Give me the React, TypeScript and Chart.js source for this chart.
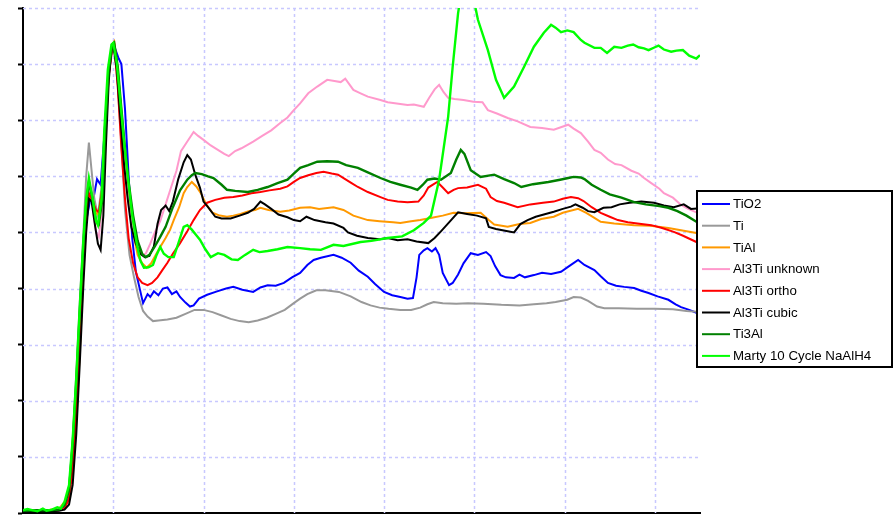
import React, { useEffect, useRef } from "react";
import { Chart, registerables } from "chart.js";

Chart.register(...registerables);

// Normalised absorption spectra, [energy offset, intensity] pairs
const tio2: [number, number][] = [
  [0, 0.03], [1.5, 0.05], [3, 0.04], [4, 0.06], [4.6, 0.12], [5.1, 0.3], [5.5, 0.9], [5.9, 1.9], [6.3, 3.2],
  [6.7, 4.5], [7.0, 5.2], [7.4, 5.55], [7.8, 5.6], [8.2, 5.95], [8.6, 5.85], [9.0, 6.7], [9.4, 7.7], [9.8, 8.2],
  [10.2, 8.28], [10.6, 8.1], [10.9, 8.0], [11.3, 7.2], [11.7, 6.0], [12.1, 4.9], [12.5, 4.3], [13.0, 3.95],
  [13.3, 3.74], [13.8, 3.9], [14.1, 3.85], [14.5, 3.95], [15.0, 3.88], [15.5, 4.0], [16.0, 4.02], [16.5, 3.9],
  [17.0, 3.95], [17.4, 3.85], [18.0, 3.75], [18.5, 3.68], [18.9, 3.7], [19.5, 3.82], [20.4, 3.89], [21.5, 3.95],
  [22.5, 4.0], [23.3, 4.03], [24.3, 3.98], [25.5, 3.94], [26.3, 4.02], [27.1, 4.06], [28.0, 4.05], [28.9, 4.1],
  [29.8, 4.2], [30.7, 4.28], [31.5, 4.42], [32.2, 4.51], [33.0, 4.55], [34.4, 4.6], [35.3, 4.55], [36.3, 4.46],
  [37.2, 4.32], [38.2, 4.21], [39.0, 4.08], [40.0, 3.94], [40.9, 3.88], [41.8, 3.85], [42.6, 3.82], [43.2, 3.83],
  [43.6, 4.2], [43.9, 4.6], [44.4, 4.68], [44.8, 4.72], [45.3, 4.66], [45.7, 4.72], [46.1, 4.6], [46.5, 4.28],
  [47.2, 4.06], [47.6, 4.1], [48.2, 4.25], [48.8, 4.45], [49.6, 4.63], [50.4, 4.6], [51.3, 4.65], [51.8, 4.58],
  [52.3, 4.4], [52.9, 4.24], [53.5, 4.2], [54.4, 4.19], [55.0, 4.25], [55.6, 4.2], [56.6, 4.24], [57.5, 4.28],
  [58.5, 4.26], [59.6, 4.3], [60.5, 4.4], [61.5, 4.51], [62.2, 4.42], [63.3, 4.33], [64.0, 4.22], [64.8, 4.1],
  [65.7, 4.05], [66.6, 4.03], [67.7, 4.01], [68.5, 3.96], [69.3, 3.92], [70.3, 3.86], [71.5, 3.8], [72.3, 3.72],
  [72.9, 3.67], [73.8, 3.62], [74.6, 3.57], [75, 3.55],
];

const ti: [number, number][] = [
  [0, 0.03], [1.5, 0.04], [3, 0.05], [4, 0.06], [4.6, 0.15], [5.1, 0.45], [5.5, 1.3], [5.9, 2.5], [6.3, 3.8],
  [6.7, 5.0], [7.0, 6.0], [7.3, 6.6], [7.6, 6.1], [7.9, 5.6], [8.3, 5.3], [8.7, 5.8], [9.1, 6.9], [9.5, 7.9],
  [9.9, 8.3], [10.1, 8.35], [10.5, 7.6], [10.9, 6.6], [11.3, 5.4], [11.8, 4.6], [12.3, 4.2], [12.8, 3.85],
  [13.3, 3.6], [13.8, 3.5], [14.4, 3.42], [15.0, 3.43], [16.0, 3.45], [17.0, 3.48], [18.0, 3.55], [19.0, 3.62],
  [20.0, 3.62], [21.0, 3.58], [22.0, 3.52], [23.0, 3.46], [24.0, 3.42], [25.0, 3.4], [26.0, 3.43], [27.0, 3.48],
  [28.0, 3.55], [29.0, 3.62], [30.0, 3.74], [30.7, 3.82], [31.5, 3.9], [32.5, 3.97], [33.5, 3.97], [35.0, 3.94],
  [36.3, 3.86], [37.5, 3.76], [38.5, 3.7], [39.5, 3.66], [40.5, 3.64], [41.8, 3.62], [43.0, 3.62], [44.0, 3.66],
  [44.8, 3.72], [45.5, 3.76], [46.5, 3.74], [48.0, 3.73], [49.3, 3.74], [51.0, 3.73], [53.0, 3.71], [55.0, 3.7],
  [56.6, 3.72], [58.0, 3.74], [59.0, 3.76], [60.3, 3.8], [61.0, 3.85], [61.8, 3.84], [62.6, 3.78], [63.6, 3.68],
  [64.4, 3.65], [66, 3.65], [68, 3.64], [70, 3.64], [72, 3.63], [73.5, 3.6], [75, 3.58],
];

const tiAl: [number, number][] = [
  [0, 0.05], [1.5, 0.05], [3, 0.06], [4, 0.08], [4.6, 0.2], [5.1, 0.35], [5.5, 0.8], [5.9, 1.6], [6.3, 2.9],
  [6.7, 4.3], [7.0, 5.2], [7.3, 5.75], [7.7, 5.6], [8.1, 5.35], [8.5, 5.3], [8.8, 5.7], [9.1, 6.8], [9.5, 7.9],
  [9.9, 8.35], [10.1, 8.4], [10.5, 7.9], [10.9, 7.1], [11.3, 6.3], [11.7, 5.6], [12.2, 5.0], [12.7, 4.6],
  [13.2, 4.45], [13.7, 4.37], [14.2, 4.45], [14.7, 4.6], [15.2, 4.74], [15.8, 4.9], [16.3, 5.05], [16.7, 5.22],
  [17.3, 5.45], [17.8, 5.7], [18.2, 5.81], [18.7, 5.9], [19.2, 5.82], [19.7, 5.7], [20.3, 5.5], [21.0, 5.35],
  [21.8, 5.3], [22.6, 5.28], [23.3, 5.3], [24.1, 5.33], [25.0, 5.38], [25.7, 5.4], [26.3, 5.44], [27.2, 5.4],
  [28.5, 5.37], [29.5, 5.39], [30.7, 5.44], [31.8, 5.45], [32.8, 5.42], [34.4, 5.45], [35.5, 5.4], [36.6, 5.3],
  [38.2, 5.22], [39.5, 5.2], [41.0, 5.18], [41.8, 5.17], [43.0, 5.2], [44.0, 5.22], [45.3, 5.26], [46.5, 5.3],
  [47.7, 5.35], [49.0, 5.34], [50.7, 5.35], [51.6, 5.22], [52.2, 5.14], [53.7, 5.1], [55.0, 5.15], [56.2, 5.17],
  [57.4, 5.24], [58.8, 5.28], [59.8, 5.35], [61.5, 5.42], [62.4, 5.35], [63.3, 5.26], [64.0, 5.19], [65.5, 5.16],
  [67.7, 5.13], [69.5, 5.12], [71.5, 5.08], [73.2, 5.03], [74.6, 4.99], [75, 4.97],
];

const al3TiUnknown: [number, number][] = [
  [0, 0.04], [1.5, 0.05], [3, 0.05], [4, 0.07], [4.6, 0.15], [5.1, 0.4], [5.5, 1.1], [5.9, 2.1], [6.3, 3.4],
  [6.7, 4.6], [7.0, 5.3], [7.3, 5.75], [7.7, 5.5], [8.1, 5.0], [8.4, 4.92], [8.8, 5.5], [9.1, 6.7], [9.5, 7.8],
  [9.9, 8.3], [10.1, 8.33], [10.5, 7.8], [10.9, 7.0], [11.3, 6.2], [11.7, 5.5], [12.2, 5.0], [12.7, 4.72],
  [13.2, 4.6], [13.6, 4.62], [14.1, 4.8], [14.6, 5.0], [15.2, 5.2], [15.8, 5.5], [16.4, 5.8], [17.0, 6.1],
  [17.5, 6.45], [18.2, 6.62], [18.9, 6.79], [19.4, 6.72], [20.0, 6.65], [20.8, 6.55], [21.5, 6.48], [22.3, 6.4],
  [22.8, 6.36], [23.5, 6.45], [24.2, 6.5], [25.5, 6.62], [26.5, 6.72], [27.5, 6.82], [28.5, 6.95], [29.3, 7.05],
  [30.0, 7.18], [30.7, 7.3], [31.6, 7.48], [32.6, 7.6], [33.7, 7.72], [34.5, 7.7], [35.2, 7.68], [35.7, 7.74],
  [36.6, 7.54], [37.4, 7.48], [38.2, 7.42], [39.6, 7.36], [40.4, 7.32], [41.8, 7.29], [42.6, 7.27], [43.3, 7.28],
  [44.4, 7.24], [45.0, 7.4], [45.6, 7.55], [46.1, 7.63], [46.6, 7.5], [47.1, 7.4], [47.8, 7.38], [48.8, 7.36],
  [49.9, 7.33], [50.9, 7.32], [51.5, 7.18], [52.5, 7.12], [53.7, 7.04], [54.8, 6.98], [56.2, 6.88], [57.5, 6.86],
  [58.8, 6.83], [60.4, 6.92], [61.0, 6.85], [61.8, 6.77], [62.6, 6.62], [63.3, 6.47], [64.0, 6.42], [64.8, 6.3],
  [65.6, 6.22], [66.3, 6.2], [67.4, 6.1], [68.2, 6.05], [68.8, 5.97], [69.6, 5.88], [70.5, 5.78], [71.0, 5.7],
  [72.0, 5.62], [72.9, 5.49], [73.7, 5.42], [74.4, 5.37], [75, 5.33],
];

const al3TiOrtho: [number, number][] = [
  [0, 0.03], [1.5, 0.04], [3, 0.04], [4, 0.05], [4.6, 0.08], [5.1, 0.25], [5.5, 0.8], [5.9, 1.8], [6.3, 3.1],
  [6.7, 4.4], [7.0, 5.2], [7.3, 5.7], [7.7, 5.55], [8.1, 5.4], [8.4, 5.36], [8.8, 5.8], [9.1, 6.8], [9.5, 7.8],
  [9.9, 8.3], [10.1, 8.35], [10.5, 7.6], [10.9, 6.5], [11.3, 5.6], [11.7, 4.9], [12.2, 4.45], [12.7, 4.2],
  [13.2, 4.1], [13.8, 4.06], [14.3, 4.1], [14.9, 4.2], [15.4, 4.32], [16.0, 4.46], [16.6, 4.62], [17.4, 4.81],
  [18.2, 5.02], [18.9, 5.22], [19.6, 5.4], [20.4, 5.53], [21.3, 5.58], [22.3, 5.62], [23.3, 5.63], [24.3, 5.66],
  [25.3, 5.7], [26.3, 5.72], [27.3, 5.75], [28.5, 5.78], [29.3, 5.82], [30.0, 5.9], [30.7, 5.97], [31.6, 6.02],
  [32.5, 6.06], [33.3, 6.08], [34.2, 6.05], [34.9, 6.03], [35.6, 5.96], [36.4, 5.88], [37.1, 5.81], [38.2, 5.72],
  [39.6, 5.63], [40.4, 5.58], [41.5, 5.55], [42.6, 5.54], [43.8, 5.55], [44.4, 5.66], [44.9, 5.8], [45.5, 5.86],
  [45.9, 5.9], [46.5, 5.8], [47.1, 5.7], [47.7, 5.76], [48.2, 5.79], [49.2, 5.8], [50.4, 5.85], [51.3, 5.78],
  [51.8, 5.63], [52.5, 5.56], [53.3, 5.53], [54.8, 5.45], [56.2, 5.5], [57.6, 5.53], [58.8, 5.55], [59.8, 5.6],
  [60.7, 5.63], [61.5, 5.61], [62.1, 5.56], [63.0, 5.45], [64.0, 5.35], [65.0, 5.28], [65.9, 5.22], [67.0, 5.18],
  [68.5, 5.15], [69.6, 5.13], [70.8, 5.08], [72.1, 5.01], [73.0, 4.95], [74.6, 4.83], [75, 4.8],
];

const al3TiCubic: [number, number][] = [
  [0, 0.02], [1.5, 0.03], [3, 0.03], [4, 0.04], [4.6, 0.06], [5.1, 0.15], [5.5, 0.5], [5.9, 1.4], [6.3, 2.7],
  [6.7, 4.1], [7.0, 5.0], [7.3, 5.6], [7.6, 5.55], [8.0, 5.1], [8.3, 4.8], [8.6, 4.69], [8.9, 5.3], [9.2, 6.6],
  [9.5, 7.7], [9.8, 8.25], [10.0, 8.33], [10.4, 7.9], [10.8, 7.0], [11.2, 6.2], [11.6, 5.6], [12.0, 5.1],
  [12.5, 4.8], [13.0, 4.62], [13.5, 4.56], [14.0, 4.58], [14.5, 4.75], [14.9, 5.15], [15.3, 5.4], [15.8, 5.48],
  [16.2, 5.38], [16.6, 5.55], [17.2, 5.95], [17.8, 6.25], [18.2, 6.38], [18.6, 6.3], [19.1, 6.02], [19.6, 5.8],
  [20.0, 5.55], [20.5, 5.45], [21.3, 5.28], [22.0, 5.25], [23.0, 5.25], [24.0, 5.3], [24.9, 5.35], [25.6, 5.42],
  [26.3, 5.55], [26.8, 5.5], [27.5, 5.42], [28.3, 5.32], [29.3, 5.27], [30.0, 5.22], [30.7, 5.2], [31.4, 5.28],
  [32.3, 5.22], [33.5, 5.18], [34.4, 5.16], [35.5, 5.08], [36.0, 5.0], [37.0, 4.94], [38.2, 4.9], [39.5, 4.88],
  [40.4, 4.9], [41.5, 4.86], [42.6, 4.88], [43.6, 4.84], [44.9, 4.81], [45.6, 4.9], [46.3, 5.02], [47.2, 5.18],
  [48.2, 5.36], [49.2, 5.33], [50.3, 5.3], [51.3, 5.25], [51.6, 5.1], [52.4, 5.06], [53.7, 5.02], [54.4, 5.0],
  [55.1, 5.15], [55.9, 5.22], [56.8, 5.28], [57.7, 5.32], [58.8, 5.37], [59.8, 5.42], [60.7, 5.46], [61.2, 5.5],
  [62.0, 5.44], [62.6, 5.38], [63.3, 5.36], [64.3, 5.44], [65.2, 5.45], [66.1, 5.5], [67.2, 5.53], [68.5, 5.55],
  [69.9, 5.53], [71.0, 5.48], [72.1, 5.45], [73.2, 5.5], [74.0, 5.42], [75, 5.43],
];

const ti3Al: [number, number][] = [
  [0, 0.04], [1.5, 0.05], [3, 0.05], [4, 0.06], [4.6, 0.14], [5.1, 0.4], [5.5, 1.2], [5.9, 2.3], [6.3, 3.6],
  [6.7, 4.8], [7.0, 5.5], [7.3, 5.9], [7.7, 5.6], [8.1, 5.2], [8.4, 5.15], [8.8, 5.6], [9.1, 6.8], [9.5, 7.9],
  [9.9, 8.35], [10.1, 8.38], [10.5, 7.95], [10.9, 7.2], [11.3, 6.5], [11.7, 5.9], [12.2, 5.3], [12.7, 4.85],
  [13.2, 4.62], [13.6, 4.56], [14.0, 4.6], [14.6, 4.75], [15.2, 4.92], [15.8, 5.1], [16.6, 5.45], [17.4, 5.75],
  [18.2, 5.94], [18.7, 6.02], [19.1, 6.06], [19.8, 6.04], [20.5, 6.0], [21.1, 5.97], [22.0, 5.85], [22.6, 5.76],
  [23.5, 5.74], [24.9, 5.72], [26.0, 5.76], [27.1, 5.81], [28.2, 5.88], [29.3, 5.94], [30.0, 6.05], [30.7, 6.15],
  [31.6, 6.2], [32.6, 6.26], [33.7, 6.27], [34.9, 6.26], [35.8, 6.2], [37.1, 6.15], [38.2, 6.07], [39.6, 5.97],
  [40.7, 5.9], [41.8, 5.85], [43.0, 5.8], [43.7, 5.76], [44.3, 5.85], [44.8, 5.94], [45.6, 5.96], [46.3, 5.94],
  [47.4, 6.06], [48.0, 6.3], [48.5, 6.47], [48.9, 6.4], [49.6, 6.11], [50.7, 5.99], [52.2, 6.03], [53.3, 5.95],
  [54.4, 5.88], [55.2, 5.81], [56.5, 5.86], [58.2, 5.9], [59.5, 5.94], [60.4, 5.97], [61.0, 5.99], [61.8, 5.98],
  [62.2, 5.95], [63.0, 5.85], [64.0, 5.76], [65.0, 5.68], [66.3, 5.62], [67.7, 5.54], [69.0, 5.5], [70.5, 5.47],
  [71.5, 5.44], [72.5, 5.38], [73.5, 5.3], [74.6, 5.19], [75, 5.16],
];

const marty10Cycle: [number, number][] = [
  [0, 0.05], [0.5, 0.07], [1, 0.05], [1.6, 0.03], [2.2, 0.08], [2.6, 0.04], [3.2, 0.06], [3.8, 0.1], [4.2, 0.08],
  [4.6, 0.2], [5.1, 0.5], [5.5, 1.3], [5.9, 2.4], [6.3, 3.7], [6.7, 4.9], [7.0, 5.6], [7.3, 5.97], [7.7, 5.62],
  [8.1, 5.2], [8.3, 5.13], [8.7, 5.6], [9.0, 6.8], [9.4, 7.9], [9.8, 8.35], [10.0, 8.38], [10.4, 8.0], [10.8, 7.3],
  [11.2, 6.6], [11.6, 6.0], [12.1, 5.3], [12.6, 4.8], [13.0, 4.5], [13.4, 4.37], [13.9, 4.38], [14.4, 4.42],
  [14.8, 4.6], [15.2, 4.74], [15.6, 4.62], [16.1, 4.56], [16.7, 4.56], [17.2, 4.8], [17.8, 5.1], [18.2, 5.13],
  [18.7, 5.05], [19.2, 4.95], [19.6, 4.87], [20.2, 4.7], [20.8, 4.56], [21.6, 4.63], [22.3, 4.6], [23.1, 4.52],
  [23.8, 4.51], [24.6, 4.6], [25.5, 4.69], [26.2, 4.65], [27.1, 4.67], [28.2, 4.7], [29.3, 4.74], [30.7, 4.72],
  [31.8, 4.7], [33.0, 4.69], [34.4, 4.78], [35.5, 4.76], [37.4, 4.83], [38.6, 4.85], [40.4, 4.9], [42.0, 4.93],
  [43.3, 5.04], [44.4, 5.17], [45.2, 5.3], [46.1, 5.94], [47.1, 7.06], [47.6, 7.95], [48.2, 8.91], [48.8, 9.5],
  [49.4, 9.6], [50.0, 9.1], [50.4, 8.79], [51.5, 8.25], [52.4, 7.72], [53.3, 7.4], [54.4, 7.6], [55.5, 7.95],
  [56.6, 8.31], [57.7, 8.56], [58.5, 8.7], [59.0, 8.65], [59.6, 8.57], [60.3, 8.6], [61.0, 8.57], [61.8, 8.43],
  [62.2, 8.38], [63.3, 8.29], [64.0, 8.29], [64.7, 8.2], [65.5, 8.31], [66.3, 8.29], [67.0, 8.33], [67.6, 8.35],
  [68.2, 8.3], [68.8, 8.28], [69.3, 8.25], [70.0, 8.3], [70.4, 8.33], [71.0, 8.26], [71.8, 8.22], [72.4, 8.24],
  [73.1, 8.25], [73.8, 8.15], [74.6, 8.1], [75, 8.16],
];

const seriesLabels = [
  "TiO2",
  "Ti",
  "TiAl",
  "Al3Ti unknown",
  "Al3Ti ortho",
  "Al3Ti cubic",
  "Ti3Al",
  "Marty 10 Cycle NaAlH4",
];
const seriesData = [tio2, ti, tiAl, al3TiUnknown, al3TiOrtho, al3TiCubic, ti3Al, marty10Cycle];
const seriesColors = ["#0000FF", "#999999", "#FF9900", "#FF99CC", "#FF0000", "#000000", "#008000", "#00FF00"];

const X_MIN = 0;
const X_MAX = 75;
const X_STEP = 10;
const Y_MIN = 0;
const Y_MAX = 9;
const Y_STEP = 1;

// Dotted lavender grid, drawn beneath the spectra
const dottedGrid = {
  id: "dottedGrid",
  beforeDatasetsDraw(chart: any) {
    const { ctx, chartArea, scales } = chart;
    ctx.save();
    ctx.strokeStyle = "#C8C8FF";
    ctx.lineWidth = 1.5;
    ctx.setLineDash([3, 3]);
    for (let v = X_MIN + X_STEP; v < X_MAX; v += X_STEP) {
      const x = Math.round(scales.x.getPixelForValue(v)) + 0.5;
      ctx.beginPath();
      ctx.moveTo(x, chartArea.top);
      ctx.lineTo(x, chartArea.bottom);
      ctx.stroke();
    }
    for (let v = Y_MIN + Y_STEP; v <= Y_MAX; v += Y_STEP) {
      const y = Math.round(scales.y.getPixelForValue(v)) + 0.5;
      ctx.beginPath();
      ctx.moveTo(chartArea.left, y);
      ctx.lineTo(chartArea.right, y);
      ctx.stroke();
    }
    ctx.restore();
  },
};

// Boxed legend drawn over the right side of the plot
const boxLegend = {
  id: "boxLegend",
  afterDraw(chart: any) {
    const ctx = chart.ctx as CanvasRenderingContext2D;
    const left = 697;
    const top = 191;
    const width = 195;
    const height = 176;
    ctx.save();
    ctx.fillStyle = "#FFFFFF";
    ctx.fillRect(left, top, width, height);
    ctx.strokeStyle = "#000000";
    ctx.lineWidth = 2;
    ctx.strokeRect(left, top, width, height);
    ctx.font = '13.3px "Liberation Sans", Arial, sans-serif';
    ctx.textBaseline = "middle";
    ctx.textAlign = "left";
    const rowH = 21.7;
    seriesLabels.forEach((label, i) => {
      const y = top + 13 + i * rowH;
      ctx.strokeStyle = seriesColors[i];
      ctx.lineWidth = 2;
      ctx.beginPath();
      ctx.moveTo(left + 5, y);
      ctx.lineTo(left + 33, y);
      ctx.stroke();
      ctx.fillStyle = "#000000";
      ctx.fillText(label, left + 36, y + 0.5);
    });
    ctx.restore();
  },
};

export default function App() {
  const canvasRef = useRef<HTMLCanvasElement | null>(null);

  useEffect(() => {
    if (!canvasRef.current) return;
    const n = seriesData.length;
    const chart = new Chart(canvasRef.current, {
      type: "line",
      data: {
        datasets: seriesData.map((pts, i) => ({
          label: seriesLabels[i],
          data: pts.map(([x, y]) => ({ x, y })),
          borderColor: seriesColors[i],
          backgroundColor: seriesColors[i],
          borderWidth: i >= 6 ? 2.4 : 2,
          pointRadius: 0,
          tension: 0,
          fill: false,
          order: n - i,
        })),
      },
      options: {
        animation: false,
        responsive: false,
        devicePixelRatio: 1,
        layout: { padding: { left: 0, top: 8, right: 195, bottom: 0 } },
        plugins: {
          legend: { display: false },
          tooltip: { enabled: false },
        },
        scales: {
          x: {
            type: "linear",
            min: X_MIN,
            max: X_MAX,
            afterFit: (scale: any) => {
              scale.height = 2;
            },
            ticks: { display: false, stepSize: X_STEP },
            grid: { color: "rgba(0,0,0,0)", drawTicks: false },
            border: { display: true, color: "#000000", width: 2 },
          },
          y: {
            type: "linear",
            min: Y_MIN,
            max: Y_MAX,
            afterFit: (scale: any) => {
              scale.width = 23;
            },
            ticks: { display: false, stepSize: Y_STEP },
            grid: {
              color: "rgba(0,0,0,0)",
              drawTicks: true,
              tickLength: 5,
              tickColor: "#000000",
              tickWidth: 2,
            },
            border: { display: true, color: "#000000", width: 2 },
          },
        },
      },
      plugins: [dottedGrid, boxLegend],
    });
    return () => chart.destroy();
  }, []);

  return (
    <div style={{ position: "fixed", left: 0, top: 0, width: 895, height: 515, background: "#FFFFFF" }}>
      <canvas ref={canvasRef} width={895} height={515} style={{ display: "block" }} />
    </div>
  );
}
